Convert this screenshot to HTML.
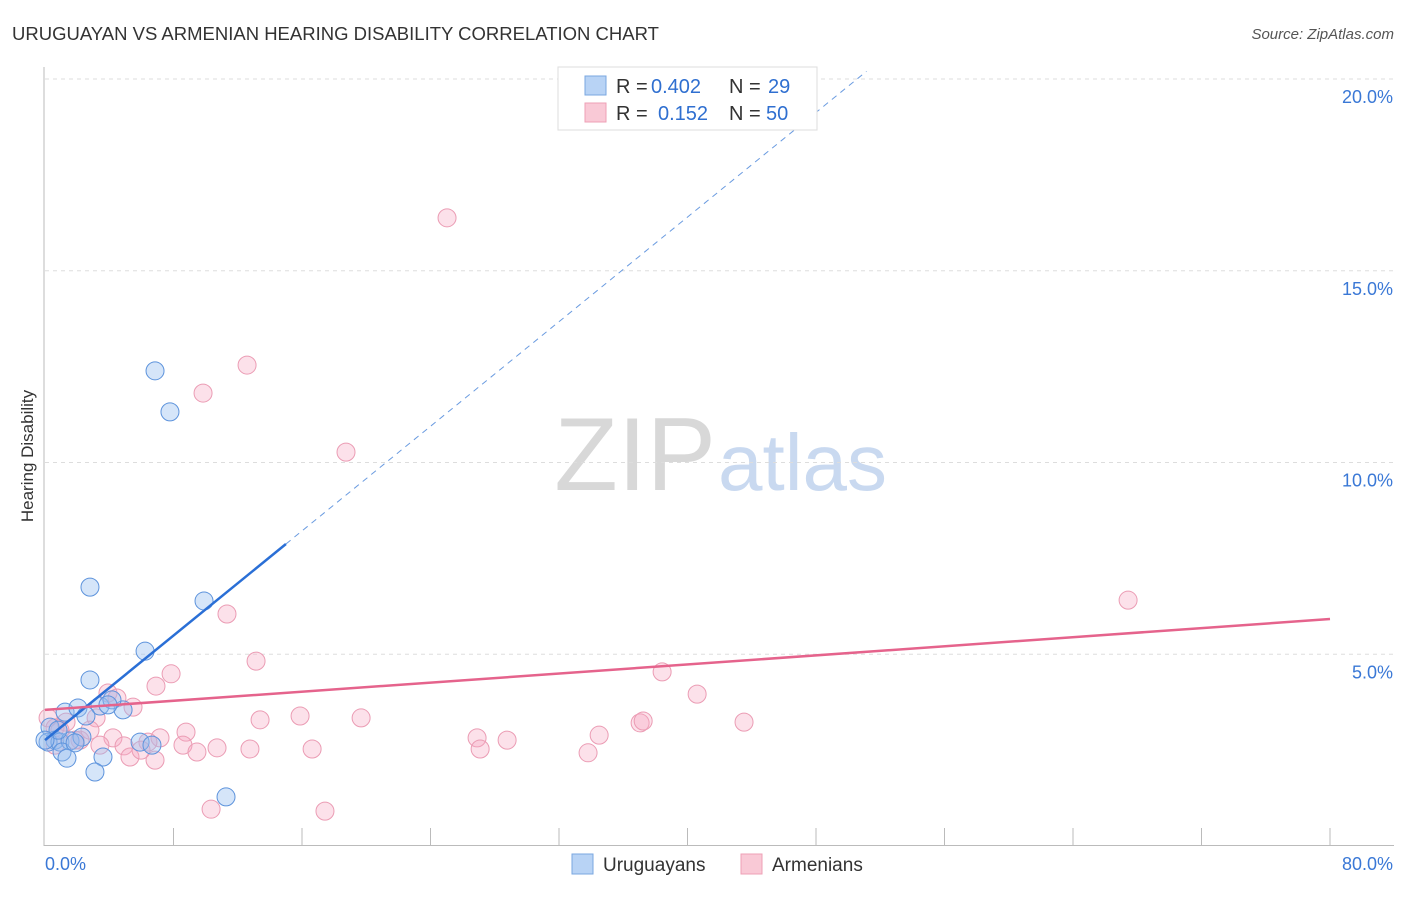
<!DOCTYPE html>
<html><head><meta charset="utf-8"><style>
body{margin:0;background:#fff;font-family:"Liberation Sans",sans-serif;}
svg text{font-family:"Liberation Sans",sans-serif;}
</style></head><body>
<svg id="c" width="1406" height="892">
<text x="12" y="40" font-size="18.5" fill="#333">URUGUAYAN VS ARMENIAN HEARING DISABILITY CORRELATION CHART</text>
<text x="1394" y="39" font-size="15" fill="#555" font-style="italic" text-anchor="end">Source: ZipAtlas.com</text>
<text x="33" y="456" font-size="17" fill="#333" text-anchor="middle" transform="rotate(-90 33 456)">Hearing Disability</text>
<text x="716" y="490" font-size="104" fill="#d8d8d8" text-anchor="end" font-family="Liberation Serif">ZIP</text>
<text x="718" y="490" font-size="80" fill="#c9d9f0">atlas</text>
<g id="grid"></g><g id="pts"></g><g id="lines"></g>
<g>
<rect x="558" y="67" width="259" height="63" fill="#fff" stroke="#ddd"/>
<rect x="585" y="76" width="21" height="19" fill="#b8d3f5" stroke="#7aa7e0"/>
<rect x="585" y="103" width="21" height="19" fill="#f9c9d6" stroke="#eea0b6"/>
<text x="616" y="93" font-size="20" fill="#333">R =</text>
<text x="651" y="93" font-size="20" fill="#2f6fd0">0.402</text>
<text x="729" y="93" font-size="20" fill="#333">N =</text>
<text x="768" y="93" font-size="20" fill="#2f6fd0">29</text>
<text x="616" y="120" font-size="20" fill="#333">R =</text>
<text x="658" y="120" font-size="20" fill="#2f6fd0">0.152</text>
<text x="729" y="120" font-size="20" fill="#333">N =</text>
<text x="766" y="120" font-size="20" fill="#2f6fd0">50</text>
</g>
<g>
<rect x="572" y="854" width="21" height="20" fill="#b8d3f5" stroke="#7aa7e0"/>
<text x="603" y="871" font-size="19" fill="#333">Uruguayans</text>
<rect x="741" y="854" width="21" height="20" fill="#f9c9d6" stroke="#eea0b6"/>
<text x="772" y="871" font-size="19" fill="#333">Armenians</text>
</g>
</svg>
<script>
const yTicks=[5,10,15,20];
const yTickLabels=["5.0%","10.0%","15.0%","20.0%"];
const xTickLabels=["0.0%","80.0%"];
const bluePx=[[155,371],[170,412],[90,587],[204,601],[145,651],[90,680],[65,712],[78,708],[100,706],[123,710],[112,700],[86,716],[50,727],[55,740],[48,742],[60,742],[70,741],[82,737],[62,752],[67,758],[103,757],[95,772],[140,742],[152,745],[226,797],[58,730],[108,705],[75,743],[45,740]];
const pinkPx=[[447,218],[247,365],[203,393],[346,452],[1128,600],[227,614],[256,661],[171,674],[156,686],[662,672],[697,694],[108,693],[117,698],[133,707],[96,718],[66,722],[48,718],[55,728],[80,740],[60,730],[744,722],[640,723],[643,721],[300,716],[361,718],[260,720],[599,735],[477,738],[507,740],[186,732],[160,738],[113,738],[148,742],[100,745],[124,746],[183,745],[217,748],[250,749],[312,749],[480,749],[588,753],[197,752],[130,757],[155,760],[141,750],[211,809],[325,811],[75,740],[90,730],[55,745]];
const blueX=bluePx.map(p=>+((p[0]-45)/16.06).toFixed(2));
const blueY=bluePx.map(p=>+((846-p[1])/38.35).toFixed(2));
const pinkX=pinkPx.map(p=>+((p[0]-45)/16.06).toFixed(2));
const pinkY=pinkPx.map(p=>+((846-p[1])/38.35).toFixed(2));
const blueTrend=[2.76,0.341];
const pinkTrend=[3.55,0.0296];
const X=v=>45+v*1285/80, Y=v=>846-v*38.35;
const NS="http://www.w3.org/2000/svg";
function mk(t,a,p){const e=document.createElementNS(NS,t);for(const k in a)e.setAttribute(k,a[k]);p.appendChild(e);return e;}
const g=document.getElementById('grid');
yTicks.forEach((t,i)=>{
 const l=mk('line',{x1:45,x2:1394,y1:Y(t),y2:Y(t),stroke:'#ddd','stroke-dasharray':'4,4'},g);
 
 
 const tx=mk('text',{x:1393,y:Y(t)+24,'font-size':18,fill:'#3a78d6','text-anchor':'end'},g);
 tx.textContent=yTickLabels[i];
 
 
});
mk('line',{x1:44,x2:44,y1:67,y2:846,stroke:'#bbb'},g);
mk('line',{x1:44,x2:1394,y1:845.5,y2:845.5,stroke:'#bbb'},g);
for(let k=1;k<=10;k++){const x=45+128.5*k;mk('line',{x1:x,x2:x,y1:828,y2:845,stroke:'#bbb'},g);}
[[45,'start',0],[1393,'end',1]].forEach(a=>{const t=mk('text',{x:a[0],y:870,'font-size':18,fill:'#3a78d6','text-anchor':a[1]},g);t.textContent=xTickLabels[a[2]];
 
 });
const P=document.getElementById('pts');
pinkX.forEach((x,i)=>{const c=mk('circle',{cx:X(x),cy:Y(pinkY[i]),r:9,fill:'rgba(246,170,195,0.35)',stroke:'#eb9cb4','stroke-width':1},P);
 
 });
blueX.forEach((x,i)=>{const c=mk('circle',{cx:X(x),cy:Y(blueY[i]),r:9,fill:'rgba(150,190,240,0.4)',stroke:'#5d93dc','stroke-width':1},P);
 
 });
const L=document.getElementById('lines');
const bx2=15, bxd=(20.2-blueTrend[0])/blueTrend[1];
let l1=mk('line',{x1:X(0),y1:Y(blueTrend[0]),x2:X(bx2),y2:Y(blueTrend[0]+blueTrend[1]*bx2),stroke:'#2a6fd6','stroke-width':2.5},L);


let l2=mk('line',{x1:X(bx2),y1:Y(blueTrend[0]+blueTrend[1]*bx2),x2:X(bxd),y2:Y(20.2),stroke:'#6a9be0','stroke-width':1,'stroke-dasharray':'6,5'},L);


let l3=mk('line',{x1:X(0),y1:Y(pinkTrend[0]),x2:X(80),y2:Y(pinkTrend[0]+pinkTrend[1]*80),stroke:'#e5638c','stroke-width':2.5},L);


</script>
</body></html>
